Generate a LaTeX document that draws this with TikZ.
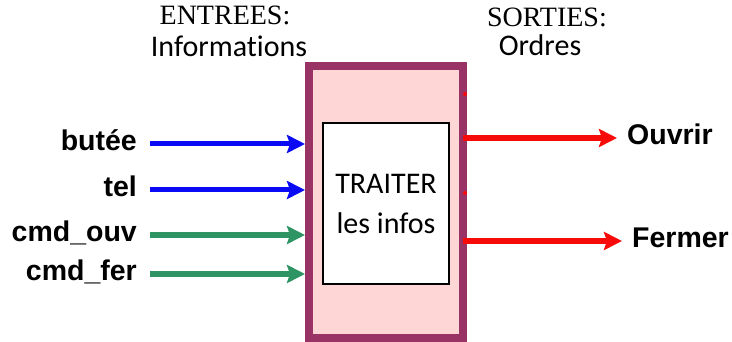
\documentclass[tikz,border=0pt]{standalone}
\usepackage{fontspec}
\setmainfont{Carlito}[Ligatures=NoCommon]
\newfontfamily\sansgras{Liberation Sans}
\newfontfamily\romain{Liberation Serif}
\usetikzlibrary{arrows.meta}
\definecolor{prune}{HTML}{993366}
\definecolor{rose}{HTML}{FFD6D6}
\definecolor{bleu}{HTML}{0A0AF5}
\definecolor{vert}{HTML}{2F9464}
\definecolor{rouge}{HTML}{F70A0A}

\begin{document}
\begin{tikzpicture}[x=1pt,y=-1pt,
    lbl/.style={font=\sansgras\bfseries\fontsize{28.5}{34}\selectfont, inner sep=0pt, text height=14pt, text depth=0pt},
    titre/.style={font=\romain\fontsize{28}{32}\selectfont, inner sep=0pt, anchor=base},
    sstitre/.style={font=\fontsize{30}{36}\selectfont, inner sep=0pt, anchor=base},
    fl/.style={-{Stealth[length=18pt,width=18pt,inset=3pt]}},
    entree/.style={fl, shorten <=13pt},
    sortie/.style={fl, draw=rouge, line width=6.5pt, shorten >=10pt}]
    \useasboundingbox (0,0) rectangle (732,342);

    % la boite de traitement
    \node[draw=prune, line width=8pt, fill=rose, minimum width=154pt, minimum height=272pt, inner sep=0pt] (boite) at (386,202) {};
    \node[draw=black, line width=2pt, fill=white, minimum width=126pt, minimum height=161pt, inner sep=0pt, align=center, font=\fontsize{30}{40}\selectfont] (traiter) at (386,203.5) {TRAITER\\les infos};
    \fill[rouge] (465,94) circle (2pt); \fill[rouge] (465,193) circle (2pt);

    % titres
    \node[titre] (entrees) at (225,25) {ENTREES:};
    \node[sstitre] (infos) at (229,57) {Informations};
    \node[titre] (sorties) at (547,27) {SORTIES:};
    \node[sstitre] (ordres) at (540,56) {Ordres};

    % entrees
    \node[lbl, anchor=east] (butee) at (137,144) {butée};
    \node[lbl, anchor=east] (tel) at (137,190) {tel};
    \node[lbl, anchor=east] (cmdouv) at (137,235) {cmd\_ouv};
    \node[lbl, anchor=east] (cmdfer) at (137,274) {cmd\_fer};
    \draw[entree, draw=bleu, line width=5pt] (butee.east) -- (butee.east -| boite.west);
    \draw[entree, draw=bleu, line width=5pt] (tel.east) -- (tel.east -| boite.west);
    \draw[entree, draw=vert, line width=6.5pt] (cmdouv.east) -- (cmdouv.east -| boite.west);
    \draw[entree, draw=vert, line width=6.5pt] (cmdfer.east) -- (cmdfer.east -| boite.west);

    % sorties
    \node[lbl, anchor=west] (ouvrir) at (627,138) {Ouvrir};
    \node[lbl, anchor=west] (fermer) at (632,241) {Fermer};
    \draw[sortie] ([xshift=-4pt]ouvrir.west -| boite.east) -- (ouvrir.west);
    \draw[sortie] ([xshift=-4pt]fermer.west -| boite.east) -- (fermer.west);
\end{tikzpicture}
\end{document}
